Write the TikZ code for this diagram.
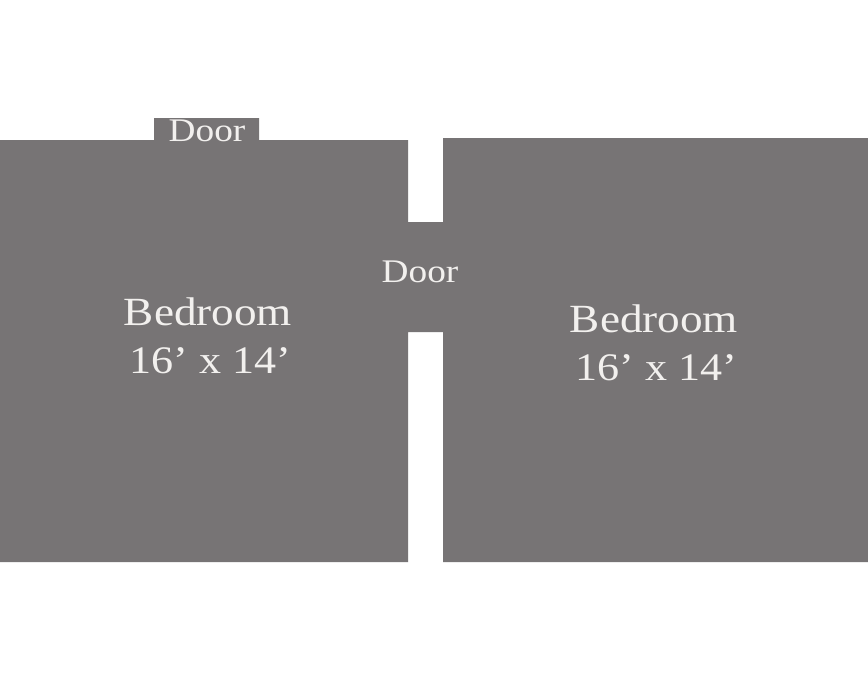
\documentclass[tikz,border=0pt]{standalone}
\usepackage{fontspec}
\setmainfont[FakeStretch=1.13]{Liberation Serif}
\definecolor{room}{HTML}{777475}
\definecolor{lbl}{HTML}{F2F0EE}
\tikzset{roomlabel/.style={text=lbl,align=center,font=\fontsize{40}{48}\selectfont,inner sep=0pt},
doorlabel/.style={text=lbl,font=\fontsize{33}{36}\selectfont,inner sep=0pt}}
\begin{document}
\begin{tikzpicture}[x=1pt,y=-1pt]
\useasboundingbox (0,0) rectangle (868,686);
\fill[white] (0,0) rectangle (868,686);
\fill[room] (0,140) -- (154,140) -- (154,118) -- (259,118) -- (259,140) -- (408,140) -- (408,222) -- (443,222) -- (443,138) -- (868,138) -- (868,562) -- (443,562) -- (443,332) -- (408,332) -- (408,562) -- (0,562) -- cycle;
\node[doorlabel] (d1) at (207,131) {Door};
\node[doorlabel] (d2) at (420,272) {Door};
\node[roomlabel] (r1) at (208,336) {Bedroom\\\hspace*{5pt}{\fontsize{39}{48}\selectfont 16’ x 14’}};
\node[roomlabel] (r2) at (654,343) {Bedroom\\\hspace*{5pt}{\fontsize{39}{48}\selectfont 16’ x 14’}};
\end{tikzpicture}
\end{document}
